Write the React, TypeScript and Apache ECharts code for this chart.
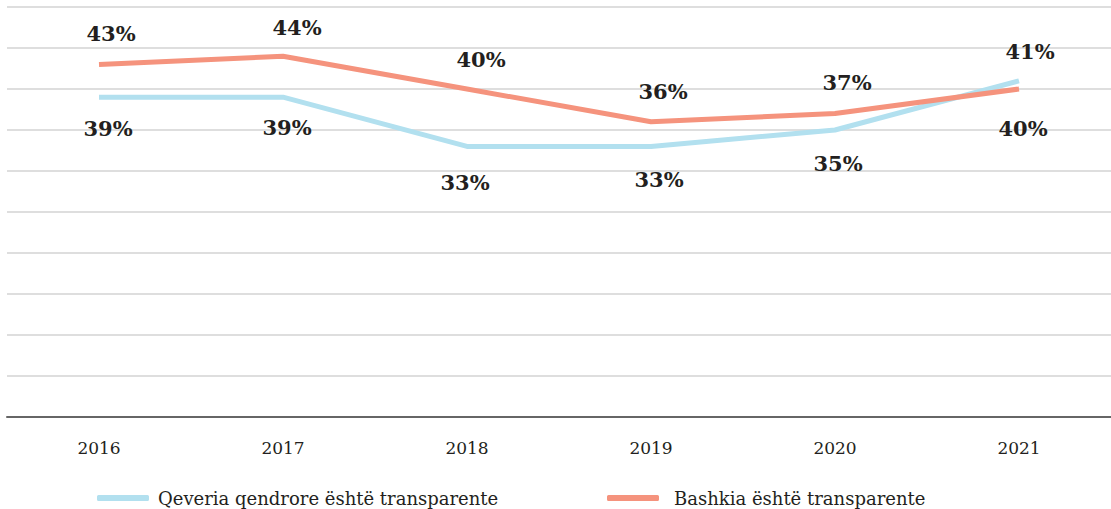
import React, { useEffect, useRef } from "react";
import * as echarts from "echarts";

const years = ["2016", "2017", "2018", "2019", "2020", "2021"];
const qeveriaValues = [39, 39, 33, 33, 35, 41];
const bashkiaValues = [43, 44, 40, 36, 37, 40];
const qeveriaName = "Qeveria qendrore është transparente";
const bashkiaName = "Bashkia është transparente";

// label placement offsets (style only)
const qeveriaLabelOffsets = [[9, 31], [4, 30], [-2, 36], [8, 33], [3, 33], [11, -29]];
const bashkiaLabelOffsets = [[12, -31], [14, -29], [14, -30], [12, -30], [12, -31], [4, 39]];

const BLUE = "#b2e0ef";
const ORANGE = "#f5937d";
const labelFont = {
  fontFamily: "DejaVu Serif",
  fontWeight: "bold" as const,
  fontSize: 21,
  color: "#231f20",
};

function buildData(values: number[], offsets: number[][]) {
  return values.map((v, i) => ({
    value: v,
    label: {
      show: true,
      position: "inside",
      offset: offsets[i],
      formatter: "{c}%",
      ...labelFont,
    },
  }));
}

export default function App() {
  const ref = useRef<HTMLDivElement>(null);
  useEffect(() => {
    if (!ref.current) return;
    const chart = echarts.init(ref.current, null, { renderer: "svg" });
    chart.setOption({
      animation: false,
      backgroundColor: "#ffffff",
      grid: { left: 7, right: 0, top: 7, bottom: 92, containLabel: false },
      xAxis: {
        type: "category",
        data: years,
        boundaryGap: true,
        axisLine: { show: true, lineStyle: { color: "#666666", width: 2 } },
        axisTick: { show: false },
        axisLabel: {
          margin: 22,
          fontFamily: "DejaVu Serif",
          fontSize: 17,
          color: "#231f20",
        },
      },
      yAxis: {
        type: "value",
        min: 0,
        max: 50,
        interval: 5,
        axisLabel: { show: false },
        axisLine: { show: false },
        axisTick: { show: false },
        splitLine: { lineStyle: { color: "#d3d3d3", width: 1.5 } },
      },
      legend: [
        {
          data: [{ name: qeveriaName, icon: "roundRect", itemStyle: { color: BLUE, opacity: 1 } }],
          left: 92,
          top: 484,
          itemWidth: 52,
          itemHeight: 6,
          textStyle: { fontFamily: "DejaVu Serif", fontSize: 18, color: "#231f20", padding: [0, 0, 0, 4] },
        },
        {
          data: [{ name: bashkiaName, icon: "roundRect", itemStyle: { color: ORANGE, opacity: 1 } }],
          left: 602,
          top: 484,
          itemWidth: 52,
          itemHeight: 6,
          textStyle: { fontFamily: "DejaVu Serif", fontSize: 18, color: "#231f20", padding: [0, 0, 0, 10] },
        },
      ],
      series: [
        {
          name: qeveriaName,
          type: "line",
          data: buildData(qeveriaValues, qeveriaLabelOffsets),
          symbol: "circle",
          symbolSize: 0.01,
          itemStyle: { color: BLUE },
          lineStyle: { color: BLUE, width: 5 },
          color: BLUE,
        },
        {
          name: bashkiaName,
          type: "line",
          data: buildData(bashkiaValues, bashkiaLabelOffsets),
          symbol: "circle",
          symbolSize: 0.01,
          itemStyle: { color: ORANGE },
          lineStyle: { color: ORANGE, width: 5 },
          color: ORANGE,
        },
      ],
    });
    return () => chart.dispose();
  }, []);
  return (
    <div
      ref={ref}
      style={{ position: "fixed", left: 0, top: 0, width: 1111, height: 509 }}
    />
  );
}
